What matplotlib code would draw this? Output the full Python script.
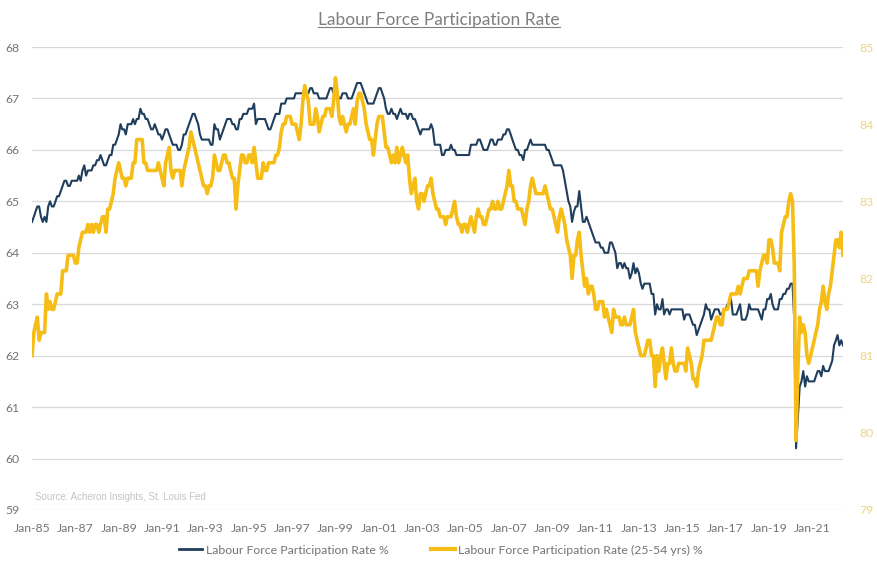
import matplotlib
matplotlib.use("Agg")
import matplotlib.pyplot as plt
import pandas as pd
from matplotlib.lines import Line2D

# --- data: monthly values, Jan-1985 .. Jun-2022 ---
lfpr_rows = [
    [64.6, 64.7, 64.8, 64.9, 64.9, 64.7, 64.6, 64.7, 64.6, 64.9, 65.0, 64.9],  # 1985
    [64.9, 65.0, 65.1, 65.1, 65.2, 65.3, 65.4, 65.4, 65.3, 65.3, 65.4, 65.4],
    [65.4, 65.4, 65.5, 65.4, 65.6, 65.7, 65.5, 65.6, 65.6, 65.6, 65.7, 65.7],
    [65.8, 65.8, 65.9, 65.8, 65.7, 65.7, 65.8, 65.9, 65.9, 66.1, 66.1, 66.2],
    [66.3, 66.5, 66.4, 66.4, 66.3, 66.5, 66.5, 66.5, 66.6, 66.5, 66.6, 66.6],
    [66.8, 66.7, 66.7, 66.6, 66.6, 66.5, 66.4, 66.4, 66.5, 66.4, 66.3, 66.3],  # 1990
    [66.2, 66.3, 66.4, 66.4, 66.3, 66.2, 66.1, 66.1, 66.1, 66.0, 66.0, 66.1],
    [66.3, 66.3, 66.4, 66.5, 66.6, 66.7, 66.7, 66.6, 66.5, 66.3, 66.2, 66.2],
    [66.2, 66.2, 66.2, 66.1, 66.1, 66.5, 66.4, 66.4, 66.2, 66.3, 66.4, 66.5],
    [66.6, 66.6, 66.6, 66.5, 66.5, 66.4, 66.4, 66.6, 66.6, 66.7, 66.7, 66.7],
    [66.8, 66.8, 66.8, 66.9, 66.5, 66.6, 66.6, 66.6, 66.6, 66.6, 66.5, 66.4],  # 1995
    [66.4, 66.5, 66.6, 66.7, 66.7, 66.7, 66.9, 66.9, 66.9, 67.0, 67.0, 67.0],
    [67.0, 67.0, 67.1, 67.1, 67.1, 67.1, 67.1, 67.2, 67.1, 67.1, 67.2, 67.2],
    [67.1, 67.1, 67.1, 67.0, 67.0, 67.0, 67.0, 67.0, 67.1, 67.2, 67.2, 67.1],
    [67.1, 67.1, 67.0, 67.0, 67.1, 67.1, 67.1, 67.0, 67.0, 67.0, 67.1, 67.2],
    [67.3, 67.3, 67.3, 67.2, 67.1, 67.0, 66.9, 66.9, 66.9, 66.9, 67.0, 67.1],  # 2000
    [67.2, 67.2, 67.1, 67.0, 66.8, 66.7, 66.7, 66.8, 66.7, 66.7, 66.6, 66.7],
    [66.8, 66.7, 66.7, 66.7, 66.6, 66.7, 66.7, 66.6, 66.6, 66.5, 66.4, 66.3],
    [66.4, 66.4, 66.4, 66.4, 66.4, 66.5, 66.4, 66.1, 66.1, 66.1, 66.1, 65.9],
    [65.9, 66.0, 66.0, 66.0, 66.1, 66.0, 66.0, 65.9, 65.9, 65.9, 65.9, 65.9],
    [65.9, 65.9, 65.9, 66.1, 66.1, 66.1, 66.1, 66.2, 66.2, 66.1, 66.0, 66.0],  # 2005
    [66.0, 66.1, 66.2, 66.2, 66.1, 66.1, 66.2, 66.2, 66.2, 66.3, 66.3, 66.4],
    [66.4, 66.3, 66.2, 66.1, 66.0, 66.0, 65.9, 65.9, 65.8, 66.0, 66.0, 66.1],
    [66.2, 66.1, 66.1, 66.1, 66.1, 66.1, 66.1, 66.1, 66.1, 66.0, 66.0, 65.9],
    [65.8, 65.7, 65.7, 65.7, 65.7, 65.7, 65.6, 65.4, 65.2, 65.0, 64.9, 64.6],
    [64.8, 64.9, 64.9, 65.2, 64.9, 64.6, 64.6, 64.7, 64.6, 64.5, 64.4, 64.3],  # 2010
    [64.2, 64.2, 64.2, 64.1, 64.1, 64.0, 64.0, 64.0, 64.2, 64.2, 64.1, 64.0],
    [63.7, 63.8, 63.8, 63.7, 63.8, 63.7, 63.7, 63.5, 63.6, 63.8, 63.6, 63.7],
    [63.6, 63.4, 63.3, 63.4, 63.4, 63.4, 63.4, 63.2, 63.2, 62.8, 63.0, 62.9],
    [62.9, 63.1, 62.8, 62.9, 62.9, 62.8, 62.9, 62.9, 62.9, 62.9, 62.9, 62.9],
    [62.9, 62.7, 62.8, 62.8, 62.8, 62.7, 62.6, 62.6, 62.4, 62.5, 62.6, 62.7],  # 2015
    [62.8, 63.0, 62.9, 62.9, 62.7, 62.8, 62.9, 62.9, 62.9, 62.8, 62.8, 62.9],
    [62.9, 63.0, 63.0, 63.1, 62.8, 62.8, 62.8, 62.9, 63.0, 62.7, 62.7, 62.7],
    [62.8, 63.0, 62.9, 62.9, 62.9, 62.9, 62.9, 62.8, 62.7, 62.9, 62.9, 63.1],
    [63.1, 63.2, 63.0, 62.9, 62.9, 62.9, 63.1, 63.1, 63.2, 63.2, 63.3, 63.3],
    [63.4, 63.4, 62.7, 60.2, 60.8, 61.4, 61.5, 61.7, 61.4, 61.6, 61.5, 61.5],  # 2020
    [61.5, 61.5, 61.6, 61.7, 61.7, 61.6, 61.8, 61.7, 61.7, 61.7, 61.8, 61.9],
    [62.2, 62.3, 62.4, 62.2, 62.3, 62.2],
]

prime_rows = [
    [81.0, 81.3, 81.4, 81.5, 81.2, 81.3, 81.3, 81.3, 81.8, 81.6, 81.7, 81.6],  # 1985
    [81.6, 81.7, 81.8, 81.8, 81.8, 82.1, 82.1, 82.1, 82.3, 82.3, 82.3, 82.3],
    [82.2, 82.2, 82.4, 82.5, 82.6, 82.6, 82.6, 82.7, 82.6, 82.7, 82.6, 82.7],
    [82.7, 82.6, 82.7, 82.8, 82.8, 82.6, 82.9, 82.9, 83.0, 83.1, 83.3, 83.4],
    [83.5, 83.4, 83.3, 83.3, 83.2, 83.3, 83.3, 83.3, 83.5, 83.5, 83.8, 83.8],
    [83.8, 83.8, 83.5, 83.5, 83.4, 83.4, 83.4, 83.4, 83.4, 83.4, 83.5, 83.4],  # 1990
    [83.3, 83.2, 83.5, 83.6, 83.7, 83.4, 83.3, 83.4, 83.4, 83.4, 83.4, 83.2],
    [83.4, 83.5, 83.6, 83.7, 83.9, 83.8, 83.7, 83.6, 83.5, 83.4, 83.3, 83.2],
    [83.2, 83.1, 83.2, 83.2, 83.3, 83.6, 83.5, 83.4, 83.4, 83.5, 83.6, 83.6],
    [83.5, 83.5, 83.4, 83.3, 83.3, 82.9, 83.2, 83.4, 83.6, 83.6, 83.5, 83.5],
    [83.6, 83.6, 83.5, 83.7, 83.5, 83.3, 83.3, 83.3, 83.5, 83.4, 83.4, 83.5],  # 1995
    [83.5, 83.5, 83.5, 83.6, 83.6, 83.7, 83.9, 84.0, 84.0, 84.1, 84.1, 84.1],
    [84.0, 84.0, 84.0, 83.9, 83.8, 84.0, 84.3, 84.5, 84.4, 84.3, 84.0, 84.0],
    [84.0, 84.2, 84.1, 83.9, 84.0, 84.1, 84.1, 84.2, 84.2, 84.2, 84.1, 84.3],
    [84.6, 84.4, 84.1, 84.0, 84.1, 84.0, 83.9, 84.0, 84.0, 84.1, 84.2, 84.0],
    [84.3, 84.4, 84.4, 84.3, 84.2, 84.0, 83.9, 83.8, 83.8, 83.6, 83.8, 84.0],  # 2000
    [84.1, 84.1, 84.1, 83.9, 83.7, 83.7, 83.6, 83.5, 83.6, 83.5, 83.7, 83.5],
    [83.6, 83.7, 83.6, 83.5, 83.6, 83.3, 83.1, 83.2, 83.3, 83.0, 82.9, 83.1],
    [83.1, 83.0, 83.1, 83.2, 83.2, 83.3, 83.1, 83.0, 82.9, 82.9, 82.8, 82.8],
    [82.8, 82.7, 82.8, 82.8, 82.8, 82.9, 83.0, 82.8, 82.7, 82.7, 82.6, 82.7],
    [82.7, 82.6, 82.7, 82.8, 82.7, 82.6, 82.8, 82.9, 82.8, 82.8, 82.7, 82.7],  # 2005
    [82.8, 82.9, 82.9, 83.0, 82.9, 82.9, 83.0, 82.9, 82.9, 83.0, 83.1, 83.2],
    [83.4, 83.2, 83.2, 83.0, 83.0, 82.9, 82.9, 82.9, 82.8, 82.7, 82.9, 83.0],
    [83.2, 83.3, 83.2, 83.1, 83.1, 83.1, 83.1, 83.1, 83.2, 83.1, 83.0, 82.9],
    [82.9, 82.8, 82.7, 82.6, 82.8, 82.9, 82.8, 82.7, 82.5, 82.4, 82.3, 82.0],
    [82.3, 82.3, 82.5, 82.6, 82.3, 82.1, 81.9, 82.0, 81.8, 81.9, 81.9, 81.8],  # 2010
    [81.6, 81.6, 81.7, 81.7, 81.7, 81.5, 81.6, 81.5, 81.4, 81.3, 81.6, 81.5],
    [81.5, 81.5, 81.4, 81.4, 81.5, 81.4, 81.4, 81.4, 81.5, 81.6, 81.3, 81.2],
    [81.1, 81.0, 81.0, 81.0, 81.1, 81.2, 81.2, 81.0, 81.0, 80.6, 81.0, 80.8],
    [81.0, 81.1, 80.9, 80.7, 80.9, 80.9, 81.1, 80.9, 80.8, 80.8, 80.9, 80.9],
    [80.9, 80.9, 80.8, 81.1, 81.0, 80.9, 80.7, 80.7, 80.6, 80.8, 80.9, 81.0],  # 2015
    [81.2, 81.2, 81.2, 81.2, 81.2, 81.3, 81.4, 81.5, 81.5, 81.4, 81.4, 81.6],
    [81.6, 81.6, 81.7, 81.8, 81.8, 81.8, 81.8, 81.9, 81.8, 81.9, 82.0, 82.0],
    [82.0, 82.1, 82.1, 82.1, 82.1, 82.1, 81.9, 82.1, 82.2, 82.3, 82.3, 82.2],
    [82.5, 82.5, 82.4, 82.2, 82.2, 82.2, 82.1, 82.6, 82.7, 82.8, 82.8, 83.0],
    [83.1, 83.0, 82.2, 79.9, 80.8, 81.5, 81.3, 81.4, 81.3, 81.0, 80.9, 81.0],  # 2020
    [81.1, 81.2, 81.3, 81.4, 81.6, 81.7, 81.9, 81.7, 81.6, 81.8, 81.9, 82.1],
    [82.3, 82.5, 82.5, 82.4, 82.6, 82.3],
]

lfpr = [v for row in lfpr_rows for v in row]
prime = [v for row in prime_rows for v in row]
dates = pd.date_range("1985-01-01", periods=len(lfpr), freq="MS")

tick_years = list(range(1985, 2022, 2))
tick_labels = [f"Jan-{y % 100:02d}" for y in tick_years]
left_ticks = list(range(59, 69))
right_ticks = list(range(79, 86))

NAVY = "#1f3d5c"
GOLD = "#f5bd15"
PALE_GOLD = "#f1d47e"
GREY = "#747474"
GRID = "#d9d9d9"
FONT = ["Liberation Sans Narrow", "Lato", "DejaVu Sans"]

plt.rcParams["font.family"] = FONT

fig = plt.figure(figsize=(8.78, 5.70), dpi=100)
fig.patch.set_facecolor("white")
ax = fig.add_axes([32 / 878, 60 / 570, 811 / 878, 463 / 570])
ax2 = ax.twinx()

ax.plot(dates, lfpr, color=NAVY, linewidth=1.5, zorder=3)
ax2.plot(dates, prime, color=GOLD, linewidth=2.6, zorder=3)

ax.set_xlim(dates[0], dates[-1])
ax.set_ylim(59, 68)
ax2.set_ylim(79, 85)
ax.set_yticks(left_ticks)
ax2.set_yticks(right_ticks)
ax.set_xticks([pd.Timestamp(f"{y}-01-01") for y in tick_years])
ax.set_xticklabels(tick_labels)

ax.grid(axis="y", color=GRID, linewidth=0.9)
ax.set_axisbelow(True)
for a in (ax, ax2):
    for s in a.spines.values():
        s.set_visible(False)
ax.tick_params(axis="both", length=0, labelsize=8.8, colors=GREY)
ax.tick_params(axis="y", pad=9)
ax.tick_params(axis="x", pad=9)
ax2.tick_params(axis="y", length=0, labelsize=8.8, colors=PALE_GOLD, pad=12)

ax.text(0.004, 0.022, "Source: Acheron Insights, St. Louis Fed", transform=ax.transAxes,
        fontsize=7, color="#c4c4c4", family=["Liberation Sans", "DejaVu Sans"])

# title with underline
title = fig.text(0.5, 1 - 20 / 570, "Labour Force Participation Rate", ha="center",
                 va="center", fontsize=12.5, color="#7f7f7f")
fig.canvas.draw()
bb = title.get_window_extent(fig.canvas.get_renderer()).transformed(fig.transFigure.inverted())
fig.add_artist(Line2D([bb.x0, bb.x1], [bb.y0 + 0.002, bb.y0 + 0.002],
                      transform=fig.transFigure, color="#7f7f7f", linewidth=0.8))

handles = [Line2D([], [], color=NAVY, linewidth=2.0),
           Line2D([], [], color=GOLD, linewidth=3.0)]
fig.legend(handles, ["Labour Force Participation Rate %",
                     "Labour Force Participation Rate (25-54 yrs) %"],
           loc="center", bbox_to_anchor=(441 / 878, 1 - 550 / 570), ncol=2,
           frameon=False, fontsize=8.8, labelcolor=GREY, handlelength=1.9,
           handletextpad=0.3, columnspacing=3.5)

fig.savefig("out.png", dpi=100, facecolor="white")
